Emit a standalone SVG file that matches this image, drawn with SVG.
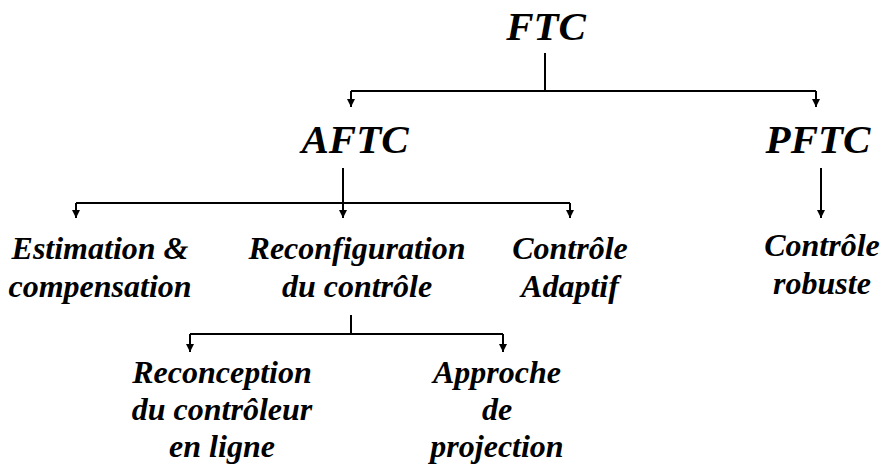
<svg xmlns="http://www.w3.org/2000/svg" width="881" height="465" viewBox="0 0 881 465">
<style>
.t{font-family:'Liberation Serif','Tinos','Times New Roman','DejaVu Serif',serif;font-weight:700;font-style:italic;fill:#000;text-anchor:middle}
.big{font-size:41px}
.sm{font-size:32px}
.ln{stroke:#000;stroke-width:2;fill:none}
</style>
<defs>
<marker id="ah" viewBox="0 0 8 8" refX="8" refY="4" markerWidth="8" markerHeight="8" markerUnits="userSpaceOnUse" orient="auto">
<path d="M0,0 L8,4 L0,8 Z" fill="#000"/>
</marker>
</defs>
<rect width="881" height="465" fill="#fff"/>
<g id="connectors">
<path class="ln" d="M545,53 V91"/>
<path class="ln" d="M351,91 H816"/>
<path class="ln" d="M351,91 V107" marker-end="url(#ah)"/>
<path class="ln" d="M816,91 V107" marker-end="url(#ah)"/>
<path class="ln" d="M343,168 V218" marker-end="url(#ah)"/>
<path class="ln" d="M76,203 H570"/>
<path class="ln" d="M76,203 V218" marker-end="url(#ah)"/>
<path class="ln" d="M570,203 V218" marker-end="url(#ah)"/>
<path class="ln" d="M821,168 V218" marker-end="url(#ah)"/>
<path class="ln" d="M351,315 V334"/>
<path class="ln" d="M190,334 H503"/>
<path class="ln" d="M190,334 V352" marker-end="url(#ah)"/>
<path class="ln" d="M503,334 V352" marker-end="url(#ah)"/>
</g>
<g class="t" font-family="Liberation Serif, serif" font-weight="bold" font-style="italic">
<g id="ftc"><text class="big" x="546" y="40">FTC</text></g>
<g id="aftc"><text class="big" x="355" y="153">AFTC</text></g>
<g id="pftc"><text class="big" x="818" y="153">PFTC</text></g>
<g id="estimation"><text class="sm" x="100" y="259">Estimation &amp;</text><text class="sm" x="100" y="297">compensation</text></g>
<g id="reconfiguration"><text class="sm" x="357" y="259">Reconfiguration</text><text class="sm" x="357" y="297">du contrôle</text></g>
<g id="adaptif"><text class="sm" x="570" y="259">Contrôle</text><text class="sm" x="570" y="297">Adaptif</text></g>
<g id="robuste"><text class="sm" x="822" y="256">Contrôle</text><text class="sm" x="822" y="294">robuste</text></g>
<g id="reconception"><text class="sm" x="222" y="383">Reconception</text><text class="sm" x="222" y="420">du contrôleur</text><text class="sm" x="222" y="457">en ligne</text></g>
<g id="approche"><text class="sm" x="497" y="383">Approche</text><text class="sm" x="497" y="420">de</text><text class="sm" x="497" y="457">projection</text></g>
</g>
</svg>
